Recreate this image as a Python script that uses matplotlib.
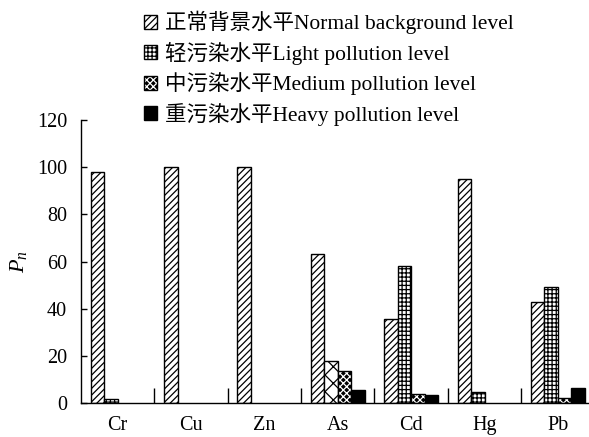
import numpy as np
import matplotlib
matplotlib.use("Agg")
import matplotlib.pyplot as plt
from matplotlib.patches import Patch

plt.rcParams['font.family'] = ['Liberation Serif', 'Noto Sans CJK SC']
plt.rcParams['mathtext.fontset'] = 'custom'
plt.rcParams['mathtext.it'] = 'Liberation Serif:italic'
plt.rcParams['mathtext.rm'] = 'Liberation Serif'
plt.rcParams['hatch.linewidth'] = 0.9

elements = ["Cr", "Cu", "Zn", "As", "Cd", "Hg", "Pb"]
normal = [98, 100, 100, 63, 35.6, 95, 42.9]
light = [1.5, 0, 0, 17.8, 58.3, 4.8, 49]
medium = [0, 0, 0, 13.5, 3.8, 0, 2]
heavy = [0, 0, 0, 5.5, 3.2, 0, 6.2]

labels = ["正常背景水平Normal background level",
          "轻污染水平Light pollution level",
          "中污染水平Medium pollution level",
          "重污染水平Heavy pollution level"]

fig = plt.figure(figsize=(5.89, 4.37), dpi=100)
ax = fig.add_axes([0.1375, 0.0778, 0.872, 0.6476])

x = np.arange(len(elements))
w = 0.184

b1 = ax.bar(x - 1.5*w, normal, w, facecolor='white', edgecolor='black', hatch='/////', lw=1)
b2 = ax.bar(x - 0.5*w, light, w, facecolor='white', edgecolor='black', hatch='++++', lw=1)
# medium: black fill with white cross-hatch, then a black outline on top
b3 = ax.bar(x + 0.5*w, medium, w, facecolor='black', edgecolor='white', hatch='xxxxx', lw=0)
b3o = ax.bar(x + 0.5*w, medium, w, facecolor='none', edgecolor='black', lw=1)
b4 = ax.bar(x + 1.5*w, heavy, w, facecolor='black', edgecolor='black', lw=1)

# As light bar drawn with a looser cross-hatch in the original
b2[3].set_hatch('xx')

for bars, vals in [(b2, light), (b3, medium), (b3o, medium), (b4, heavy)]:
    for r, v in zip(bars, vals):
        if v == 0:
            r.set_visible(False)

ax.set_xlim(-0.5, 6.5)
ax.set_ylim(0, 120)
ax.set_yticks(range(0, 121, 20))
ax.set_xticks(x)
ax.set_xticklabels(elements)
ax.set_xticks(np.arange(0.5, 6.5, 1), minor=True)
ax.tick_params(axis='x', which='major', length=0, pad=9, labelsize=14.5)
ax.tick_params(axis='x', which='minor', direction='in', length=11, width=1)
ax.tick_params(axis='y', direction='in', length=4, width=1, labelsize=14.5, pad=10)
ax.spines['top'].set_visible(False)
ax.spines['right'].set_visible(False)
ax.spines['left'].set_linewidth(1)
ax.spines['bottom'].set_linewidth(1)

ax.set_ylabel(r'$P_n$', fontsize=16, labelpad=6)

handles = [Patch(facecolor='white', edgecolor='black', hatch='/////'),
           Patch(facecolor='white', edgecolor='black', hatch='++++'),
           (Patch(facecolor='black', edgecolor='white', hatch='xxxxx', lw=0),
            Patch(facecolor='none', edgecolor='black')),
           Patch(facecolor='black', edgecolor='black')]
fig.legend(handles, labels, loc='upper left',
           bbox_to_anchor=(0.245, 0.975), frameon=False, fontsize=15.5,
           handlelength=0.6, handleheight=0.6, handletextpad=0.35,
           labelspacing=0.35, borderaxespad=0, borderpad=0)

fig.savefig("out.png", dpi=100)
